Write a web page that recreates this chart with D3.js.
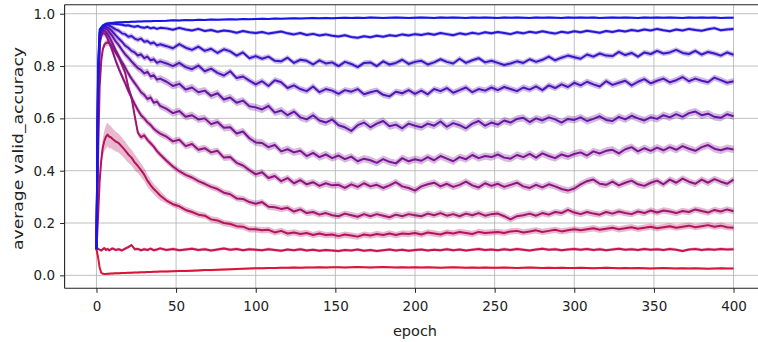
<!DOCTYPE html>
<html><head><meta charset="utf-8">
<script src="https://cdn.jsdelivr.net/npm/d3@7"></script>
<style>html,body{margin:0;padding:0;background:#fff;}svg{display:block;}</style>
</head><body><svg id="c" width="758" height="342"></svg>
<script>
const epochs = [0,1,2,3,4,5,6,7,8,9,10,
 12,14,16,18,20,22,24,26,28,30,32,34,36,38,40,
 44,48,52,56,60,64,68,72,76,80,84,88,92,96,100,
 104,108,112,116,120,124,128,132,136,140,144,148,
 152,156,160,164,168,172,176,180,184,188,192,196,200,
 204,208,212,216,220,224,228,232,236,240,244,248,
 252,256,260,264,268,272,276,280,284,288,292,296,300,
 304,308,312,316,320,324,328,332,336,340,344,348,
 352,356,360,364,368,372,376,380,384,388,392,396,400];

const s1 = [.10,.80,.94,.948,.955,.958,.960,.962,.963,.964,.965,
 .966,.967,.967,.968,.968,.969,.969,.970,.970,.971,.971,.971,.972,.972,.972,
 .973,.975,.974,.976,.975,.977,.976,.978,.977,.978,.979,.978,.980,.979,.980,
 .981,.980,.982,.981,.982,.983,.982,.983,.984,.983,.984,.983,
 .984,.985,.984,.985,.984,.986,.985,.984,.985,.986,.985,.984,.985,
 .986,.985,.984,.986,.985,.986,.985,.984,.986,.985,.986,.985,
 .984,.986,.985,.986,.985,.984,.986,.985,.986,.985,.984,.986,.985,
 .986,.985,.986,.984,.985,.986,.985,.986,.985,.984,.986,.985,
 .986,.985,.986,.985,.984,.986,.985,.986,.985,.986,.984,.985,.985];
const s2 = [.10,.78,.93,.945,.952,.957,.960,.962,.963,.963,.962,
 .961,.960,.958,.955,.956,.952,.950,.953,.948,.946,.950,.944,.947,.942,.946,
 .944,.939,.946,.940,.936,.942,.934,.938,.931,.936,.933,.927,.934,.929,.926,
 .930,.924,.928,.932,.925,.921,.926,.919,.923,.917,.921,.916,
 .913,.918,.911,.908,.914,.910,.916,.912,.918,.915,.921,.917,.922,
 .919,.924,.920,.926,.922,.918,.925,.921,.927,.923,.929,.925,
 .930,.926,.922,.929,.925,.931,.927,.933,.928,.924,.931,.927,.933,
 .929,.935,.931,.927,.934,.930,.936,.932,.938,.934,.940,.936,
 .942,.937,.933,.940,.936,.942,.938,.935,.941,.945,.937,.940,.942];
const s3 = [.10,.75,.92,.94,.95,.955,.958,.958,.955,.952,.948,
 .940,.935,.925,.922,.912,.915,.905,.900,.905,.893,.896,.886,.890,.879,.883,
 .876,.868,.884,.870,.862,.874,.858,.866,.850,.864,.856,.840,.852,.830,.838,
 .828,.836,.820,.818,.832,.812,.824,.820,.806,.822,.810,.814,
 .800,.816,.808,.796,.812,.814,.800,.818,.806,.812,.824,.808,.816,
 .820,.806,.814,.826,.816,.810,.828,.812,.822,.830,.814,.820,
 .812,.804,.810,.818,.812,.826,.816,.824,.836,.822,.832,.840,.834,
 .828,.844,.836,.848,.840,.838,.854,.842,.850,.836,.852,.846,
 .858,.848,.852,.862,.850,.846,.858,.844,.854,.848,.840,.852,.843];
const s4 = [.10,.72,.91,.935,.945,.95,.95,.948,.944,.938,.932,
 .918,.905,.893,.878,.870,.858,.852,.840,.845,.830,.836,.822,.826,.812,.818,
 .810,.800,.812,.796,.788,.802,.780,.790,.774,.764,.780,.754,.760,.744,.730,
 .742,.724,.746,.738,.716,.726,.712,.704,.722,.700,.712,.706,
 .694,.708,.702,.712,.692,.700,.706,.690,.684,.702,.696,.708,.694,
 .706,.692,.712,.704,.716,.698,.708,.718,.700,.712,.706,.718,
 .708,.720,.712,.704,.718,.710,.722,.708,.726,.716,.730,.720,.736,
 .726,.740,.730,.722,.742,.728,.736,.744,.726,.740,.750,.734,
 .744,.752,.738,.746,.758,.742,.752,.744,.738,.756,.746,.736,.742];
const s5 = [.10,.70,.90,.93,.94,.945,.942,.938,.930,.922,.914,
 .895,.880,.862,.845,.832,.818,.805,.792,.785,.772,.778,.760,.765,.748,.752,
 .740,.724,.732,.710,.718,.700,.706,.686,.696,.672,.680,.660,.668,.646,.642,
 .634,.648,.622,.630,.612,.626,.604,.596,.612,.592,.584,.596,
 .574,.566,.552,.574,.584,.566,.580,.590,.570,.576,.562,.580,.572,
 .566,.580,.572,.588,.568,.582,.574,.562,.580,.590,.572,.584,
 .576,.592,.584,.598,.602,.586,.600,.592,.604,.596,.584,.598,.594,
 .604,.590,.598,.608,.594,.590,.606,.596,.610,.600,.592,.604,
 .598,.612,.604,.616,.606,.620,.626,.612,.618,.606,.602,.616,.608];
const s6 = [.10,.65,.89,.925,.935,.935,.930,.922,.912,.900,.888,
 .862,.838,.815,.795,.772,.752,.735,.718,.700,.690,.674,.680,.660,.664,.648,
 .636,.620,.628,.606,.612,.596,.600,.578,.586,.564,.566,.542,.550,.524,.508,
 .506,.490,.498,.474,.482,.470,.476,.456,.468,.452,.462,.448,
 .458,.444,.454,.436,.446,.440,.430,.444,.434,.428,.448,.436,.444,
 .438,.452,.440,.456,.446,.436,.452,.444,.460,.448,.456,.452,
 .462,.450,.446,.460,.452,.464,.450,.466,.456,.448,.462,.454,.464,
 .470,.458,.474,.466,.476,.480,.466,.482,.490,.474,.486,.476,
 .488,.478,.490,.480,.494,.484,.476,.490,.498,.484,.478,.486,.481];
const s7 = [.10,.60,.88,.915,.925,.925,.918,.905,.890,.875,.858,
 .822,.790,.762,.735,.705,.680,.655,.632,.612,.600,.585,.575,.560,.550,.542,
 .530,.512,.518,.494,.502,.480,.486,.470,.476,.450,.452,.430,.420,.402,.386,
 .394,.372,.380,.360,.372,.352,.364,.348,.356,.342,.352,.344,
 .346,.334,.348,.338,.352,.340,.346,.334,.344,.356,.340,.334,.324,
 .340,.348,.354,.340,.350,.338,.346,.358,.344,.336,.352,.342,
 .350,.338,.346,.354,.340,.334,.346,.336,.348,.340,.330,.324,.332,
 .348,.360,.366,.350,.346,.358,.344,.354,.362,.348,.342,.354,
 .362,.348,.366,.354,.370,.358,.350,.366,.354,.368,.358,.350,.366];
const s8 = [.10,.45,.72,.82,.865,.882,.888,.890,.888,.882,.872,
 .852,.832,.805,.775,.720,.680,.610,.545,.528,.535,.518,.505,.492,.475,.462,
 .438,.416,.398,.384,.374,.360,.350,.338,.330,.316,.310,.294,.292,.280,.274,
 .280,.262,.260,.254,.258,.244,.252,.238,.242,.232,.238,.230,
 .226,.236,.230,.224,.234,.226,.234,.228,.222,.232,.226,.234,.230,
 .226,.236,.230,.238,.228,.234,.226,.236,.230,.238,.228,.234,
 .236,.226,.214,.226,.230,.236,.228,.238,.232,.242,.238,.250,.240,
 .234,.242,.236,.232,.242,.236,.244,.238,.234,.244,.238,.248,
 .240,.248,.244,.238,.246,.242,.252,.246,.240,.250,.244,.252,.245];
const s9 = [.10,.22,.36,.44,.49,.515,.530,.538,.530,.528,.522,
 .512,.505,.492,.478,.462,.450,.432,.418,.402,.385,.362,.345,.330,.318,.305,
 .286,.272,.264,.250,.242,.232,.228,.214,.210,.200,.196,.188,.186,.176,.176,
 .172,.174,.164,.170,.160,.164,.158,.162,.154,.160,.154,.156,
 .150,.156,.152,.148,.156,.152,.158,.154,.160,.154,.160,.158,.162,
 .156,.164,.160,.156,.164,.160,.166,.162,.158,.166,.162,.164,
 .166,.162,.168,.170,.164,.168,.172,.166,.170,.174,.168,.172,.176,
 .172,.176,.180,.174,.178,.182,.176,.180,.184,.178,.182,.186,
 .180,.184,.188,.182,.186,.190,.184,.188,.192,.186,.190,.184,.182];
const s10 = [.10,.102,.098,.095,.100,.104,.097,.101,.096,.099,.103,
 .097,.100,.095,.102,.108,.116,.100,.101,.096,.100,.097,.102,.096,.099,.103,
 .097,.101,.096,.099,.102,.097,.100,.095,.099,.103,.098,.101,.096,.100,.098,
 .096,.100,.097,.094,.099,.096,.100,.095,.098,.094,.097,.095,
 .093,.097,.095,.099,.094,.097,.093,.096,.099,.095,.098,.094,.097,
 .099,.095,.098,.096,.100,.096,.099,.095,.098,.101,.097,.099,
 .096,.100,.097,.101,.098,.095,.099,.102,.098,.100,.096,.099,.101,
 .098,.101,.097,.100,.096,.099,.102,.098,.100,.097,.101,.098,
 .100,.097,.101,.098,.093,.099,.101,.097,.100,.098,.101,.099,.100];
const s11 = [.10,.07,.03,.010,.006,.005,.005,.006,.006,.007,.007,
 .008,.008,.009,.009,.010,.010,.011,.011,.012,.012,.013,.013,.014,.014,.015,
 .015,.016,.017,.017,.018,.019,.020,.020,.021,.022,.023,.024,.025,.026,.027,
 .027,.028,.028,.029,.029,.030,.029,.030,.030,.031,.030,.031,
 .031,.030,.031,.032,.031,.030,.031,.032,.031,.030,.031,.030,.031,
 .030,.031,.030,.029,.030,.031,.030,.029,.030,.029,.030,.029,
 .029,.030,.029,.028,.029,.030,.029,.028,.029,.028,.029,.028,.028,
 .029,.028,.027,.028,.029,.028,.027,.028,.027,.028,.027,.026,
 .027,.028,.027,.026,.027,.026,.027,.026,.025,.026,.027,.026,.026];

// typical std band half-width for each series (top blue -> bottom red)
const spreads = [0.004,0.007,0.010,0.012,0.014,0.014,0.013,0.012,0.012,0.006,0.004];
// wider early std of the series that peaks near 0.53
const s9EarlySpread = [0,.01,.02,.03,.035,.04,.045,.045,.045,.042,.04,
 .038,.036,.035,.034,.032,.030,.030,.028,.026,.025,.024,.022,.020,.020,.018];

const xTicks = [0,50,100,150,200,250,300,350,400];
const yTicks = [0.0,0.2,0.4,0.6,0.8,1.0];

const series = [s1,s2,s3,s4,s5,s6,s7,s8,s9,s10,s11];

const svg = d3.select("#c");
const L = 64.6, R = 765.4, T = 4.7, B = 288.3;
const x = d3.scaleLinear().domain([-20,420]).range([L,R]);
const y = d3.scaleLinear().domain([-0.0495,1.0345]).range([B,T]);
const colorAt = d3.interpolateRgb("#1616ea", "#dc1438");
const FONT = "DejaVu Sans, sans-serif";

const grid = svg.append("g");
xTicks.forEach(t => grid.append("line").attr("x1",x(t)).attr("x2",x(t)).attr("y1",T).attr("y2",B)
  .attr("stroke","#b0b0b0").attr("stroke-width",0.8));
yTicks.forEach(t => grid.append("line").attr("x1",L).attr("x2",R).attr("y1",y(t)).attr("y2",y(t))
  .attr("stroke","#b0b0b0").attr("stroke-width",0.8));

svg.append("clipPath").attr("id","clip").append("rect").attr("x",L).attr("y",T).attr("width",R-L).attr("height",B-T);
const plot = svg.append("g").attr("clip-path","url(#clip)");

for (let i = series.length-1; i >= 0; i--) {
  const vals = series[i];
  const col = colorAt(i/(series.length-1));
  const pts = epochs.map((e,j) => {
    let s = spreads[i];
    if (i === 8 && j < s9EarlySpread.length) s = Math.max(s, s9EarlySpread[j]);
    if (j < 3 && i !== 8) s = 0.002;
    return {e, v: vals[j], s};
  }).filter(d => d.v !== undefined);
  const area = d3.area().x(d => x(d.e)).y0(d => y(d.v - d.s)).y1(d => y(d.v + d.s));
  plot.append("path").datum(pts).attr("d", area).attr("fill", col).attr("fill-opacity", 0.3);
  const line = d3.line().x(d => x(d.e)).y(d => y(d.v));
  plot.append("path").datum(pts).attr("d", line).attr("fill","none").attr("stroke", col)
    .attr("stroke-width", 2).attr("stroke-linejoin","round");
}

// axes
const xAxis = d3.axisBottom(x).tickValues(xTicks).tickFormat(d3.format("d")).tickSize(4.5).tickPadding(9);
const gx = svg.append("g").attr("transform",`translate(0,${B})`).call(xAxis);
const yAxis = d3.axisLeft(y).tickValues(yTicks).tickFormat(d3.format(".1f")).tickSize(4.5).tickPadding(5);
const gy = svg.append("g").attr("transform",`translate(${L},0)`).call(yAxis);
[gx,gy].forEach(g => {
  g.select(".domain").remove();
  g.selectAll(".tick line").attr("stroke","#222").attr("stroke-width",1);
  g.selectAll(".tick text").attr("fill","#222").style("font-family",FONT).style("font-size","13.5px");
});
// spines
svg.append("line").attr("x1",L).attr("x2",L).attr("y1",T).attr("y2",B).attr("stroke","#222").attr("stroke-width",1.1);
svg.append("line").attr("x1",L).attr("x2",R).attr("y1",B).attr("y2",B).attr("stroke","#222").attr("stroke-width",1.1);
svg.append("line").attr("x1",L).attr("x2",R).attr("y1",T).attr("y2",T).attr("stroke","#222").attr("stroke-width",1.1);

svg.append("text").attr("x",415).attr("y",336).attr("text-anchor","middle")
  .style("font-family",FONT).style("font-size","14.5px").attr("fill","#222").text("epoch");
svg.append("text").attr("transform","translate(22.5,148.5) rotate(-90)").attr("text-anchor","middle")
  .attr("textLength",203).attr("lengthAdjust","spacingAndGlyphs")
  .style("font-family",FONT).style("font-size","14px").attr("fill","#222").text("average valid_accuracy");
</script></body></html>
